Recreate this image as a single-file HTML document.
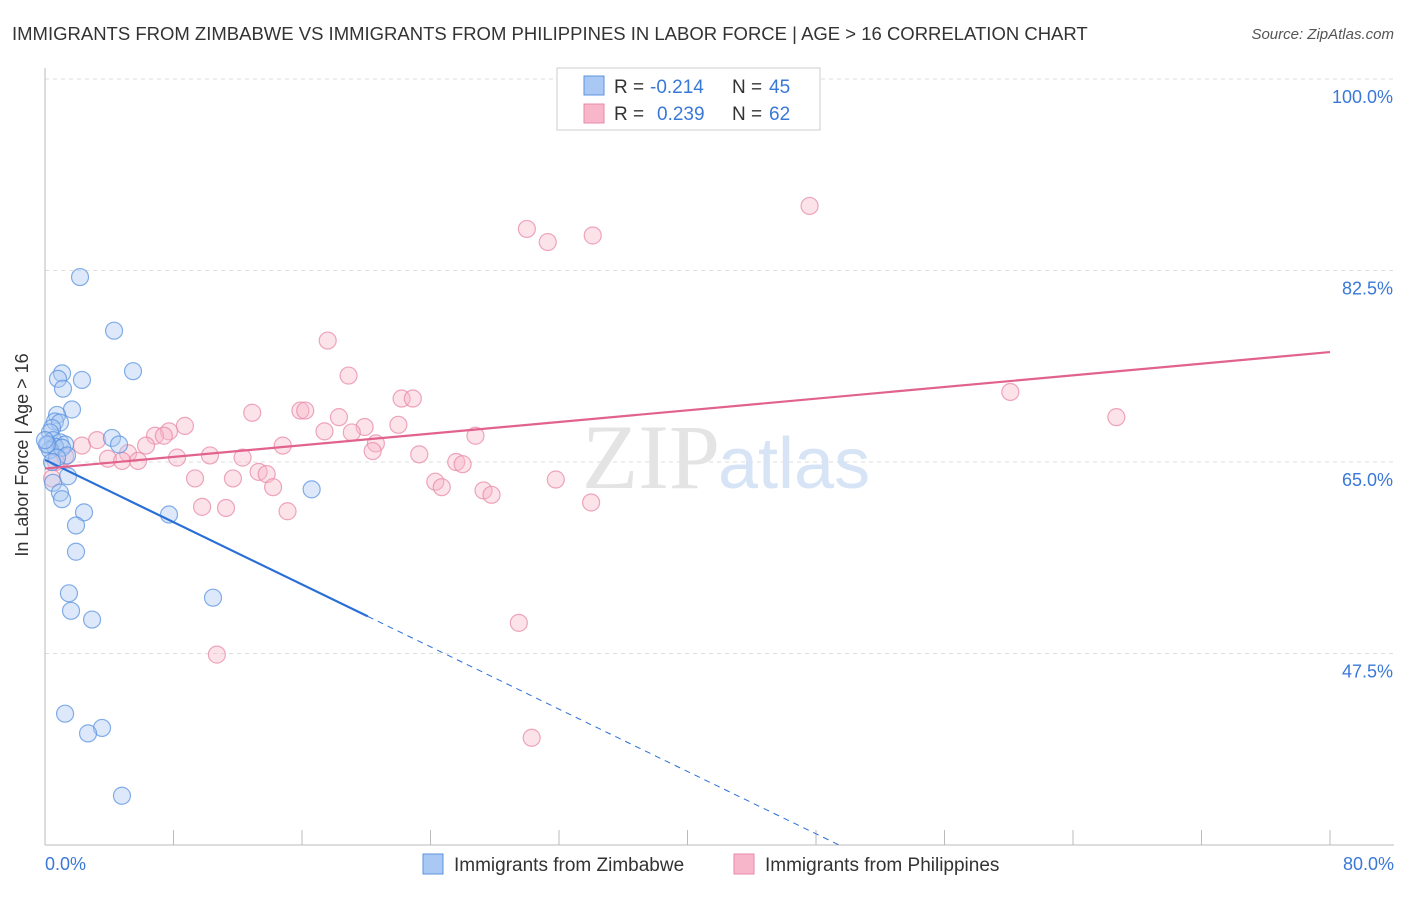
<!DOCTYPE html>
<html><head><meta charset="utf-8"><style>
body{margin:0;background:#fff;font-family:"Liberation Sans",sans-serif;}
</style></head><body>
<svg width="1406" height="892" xmlns="http://www.w3.org/2000/svg">
<text x="12" y="40" font-size="18.5" fill="#333">IMMIGRANTS FROM ZIMBABWE VS IMMIGRANTS FROM PHILIPPINES IN LABOR FORCE | AGE &gt; 16 CORRELATION CHART</text>
<text x="1394" y="39" font-size="15" fill="#555" font-style="italic" text-anchor="end">Source: ZipAtlas.com</text>
<g id="grid"></g>
<text x="720" y="488" font-size="92" fill="#e4e4e4" text-anchor="end" font-family="Liberation Serif,serif">ZIP</text>
<text x="718" y="488" font-size="72" fill="#d6e4f6">atlas</text>
<g id="marks"></g>
<text x="28" y="455" font-size="18" fill="#333" text-anchor="middle" transform="rotate(-90 28 455)">In Labor Force | Age &gt; 16</text>
<g>
<rect x="557" y="68" width="263" height="62" fill="#fff" stroke="#ccc"/>
<rect x="584" y="76" width="20" height="19" fill="#a9c8f3" stroke="#5b93e0"/>
<rect x="584" y="104" width="20" height="19" fill="#f7b6c9" stroke="#e88aa8"/>
<text x="614" y="93" font-size="19" fill="#333">R =</text>
<text x="650" y="93" font-size="19" fill="#3a78d8">-0.214</text>
<text x="732" y="93" font-size="19" fill="#333">N =</text>
<text x="769" y="93" font-size="19" fill="#3a78d8">45</text>
<text x="614" y="120" font-size="19" fill="#333">R =</text>
<text x="657" y="120" font-size="19" fill="#3a78d8">0.239</text>
<text x="732" y="120" font-size="19" fill="#333">N =</text>
<text x="769" y="120" font-size="19" fill="#3a78d8">62</text>
</g>
<g>
<rect x="423" y="854" width="20" height="20" fill="#a9c8f3" stroke="#5b93e0"/>
<text x="454" y="871" font-size="19" fill="#333">Immigrants from Zimbabwe</text>
<rect x="734" y="854" width="20" height="20" fill="#f7b6c9" stroke="#e88aa8"/>
<text x="765" y="871" font-size="19" fill="#333">Immigrants from Philippines</text>
</g>
</svg>
<script>
const yTicks=[100,82.5,65,47.5];
const yTickLabels=["100.0%","82.5%","65.0%","47.5%"];
const xTickLabels=["0.0%","80.0%"];
const blueX=[2.18,4.30,5.48,1.06,0.81,2.30,1.12,1.68,0.75,0.62,0.93,0.44,0.31,4.17,0.50,0.93,1.25,4.61,0.19,0.62,0.31,1.06,1.37,1.43,0.50,16.6,0.93,1.06,2.43,7.72,1.93,1.93,1.49,10.46,1.62,2.93,1.25,3.55,2.68,4.79,0.12,0.0,0.75,0.44];
const blueY=[81.9,77.0,73.3,73.1,72.6,72.5,71.7,69.8,69.3,68.7,68.6,68.1,67.7,67.2,67.0,66.8,66.6,66.6,66.6,66.4,66.1,66.3,65.6,63.7,63.1,62.5,62.2,61.6,60.4,60.2,59.2,56.8,53.0,52.6,51.4,50.6,42.0,40.7,40.2,34.5,66.6,67.0,65.4,65.0];
const pinkX=[47.6,30.0,31.3,34.1,17.6,18.9,60.1,22.2,22.9,66.7,12.9,15.9,16.2,18.3,8.71,19.9,22.0,7.72,6.85,7.4,17.4,19.1,26.8,20.6,3.24,2.30,6.29,14.8,20.4,5.17,10.27,23.3,3.92,4.8,5.79,8.22,12.3,25.6,26.0,1.25,13.3,13.8,9.34,11.7,31.8,14.2,24.3,24.7,27.3,27.8,34.0,9.78,11.27,15.1,29.5,10.7,30.3,0.68,0.44];
const pinkY=[88.4,86.3,85.1,85.7,76.1,72.9,71.4,70.8,70.8,69.1,69.5,69.7,69.7,69.1,68.3,68.2,68.4,67.8,67.4,67.4,67.8,67.7,67.4,66.7,67.0,66.5,66.5,66.5,66.0,65.8,65.6,65.7,65.3,65.1,65.1,65.4,65.4,65.0,64.8,65.5,64.1,63.9,63.5,63.5,63.4,62.7,63.2,62.7,62.4,62.0,61.3,60.9,60.8,60.5,50.3,47.4,39.8,65.0,63.5];
const blueTrend=[65.2,-0.712];
const pinkTrend=[64.4,0.1331];
const NS="http://www.w3.org/2000/svg";
const X=v=>45+v*1285/80, Y=v=>79+(100-v)*1094.3/100;
function mk(t,a,p){const e=document.createElementNS(NS,t);for(const k in a)e.setAttribute(k,a[k]);p.appendChild(e);return e;}
const grid=document.getElementById('grid'),marks=document.getElementById('marks');
let e=mk('line',{x1:45,y1:79,x2:1394,y2:79,stroke:'#ddd','stroke-dasharray':'4,4'},grid);


yTicks.forEach((t,i)=>{
 let g=mk('line',{x1:45,y1:Y(t),x2:1394,y2:Y(t),stroke:'#ddd','stroke-dasharray':'4,4'},grid);
 
 
 let l=mk('text',{x:1393,y:Y(t)+24,'font-size':18,fill:'#3a78d8','text-anchor':'end'},grid);l.textContent=yTickLabels[i];
 
 
});
e=mk('line',{x1:45,y1:68,x2:45,y2:845,stroke:'#bbb'},grid);


e=mk('line',{x1:45,y1:845,x2:1394,y2:845,stroke:'#bbb'},grid);


for(let i=0;i<=10;i++){let t=mk('line',{x1:X(i*8),y1:830,x2:X(i*8),y2:845,stroke:'#bbb'},grid);
 
 }
[[0,'start',45],[80,'end',1394]].forEach((d,i)=>{let l=mk('text',{x:d[2],y:870,'font-size':18,fill:'#3a78d8','text-anchor':d[1]},grid);l.textContent=xTickLabels[i];
 
 });
function dots(xs,ys,f,s,n){xs.forEach((x,i)=>{let c=mk('circle',{cx:X(x),cy:Y(ys[i]),r:8.5,fill:f,'fill-opacity':0.4,stroke:s,'stroke-opacity':0.75,'stroke-width':1.2},marks);
 
 });}
dots(pinkX,pinkY,'#f7b6c9','#e88aa8','philippines-point');
dots(blueX,blueY,'#a9c8f3','#5b93e0','zimbabwe-point');
const bEnd=20.1,bDash=49.5;
e=mk('line',{x1:X(0),y1:Y(blueTrend[0]),x2:X(bEnd),y2:Y(blueTrend[0]+blueTrend[1]*bEnd),stroke:'#2a6fd6','stroke-width':2.2},marks);


e=mk('line',{x1:X(bEnd),y1:Y(blueTrend[0]+blueTrend[1]*bEnd),x2:X(bDash),y2:Y(blueTrend[0]+blueTrend[1]*bDash),stroke:'#2a6fd6','stroke-width':1,'stroke-dasharray':'6,5'},marks);


e=mk('line',{x1:X(0),y1:Y(pinkTrend[0]),x2:X(80),y2:Y(pinkTrend[0]+pinkTrend[1]*80),stroke:'#e2628e','stroke-width':2.2},marks);


</script>
</body></html>
